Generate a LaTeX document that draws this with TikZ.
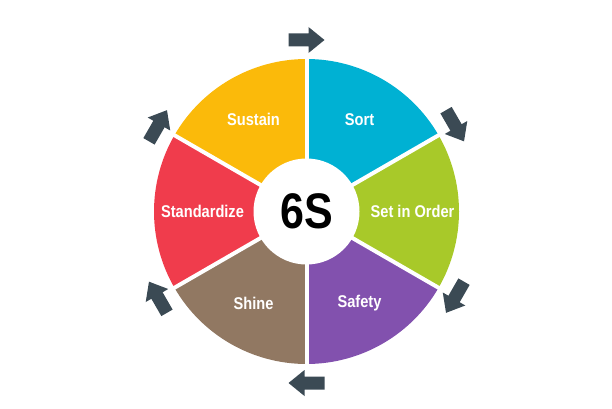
\documentclass[tikz,border=0pt]{standalone}
\usepackage{fontspec}
\setmainfont{Liberation Sans}
\definecolor{sortc}{HTML}{00B1D3}
\definecolor{orderc}{HTML}{A8C929}
\definecolor{safec}{HTML}{8251AE}
\definecolor{shinec}{HTML}{917862}
\definecolor{standc}{HTML}{F03C4C}
\definecolor{sustc}{HTML}{FBBA0A}
\definecolor{arrowgray}{HTML}{3B4A54}
\newcommand\nrw[1]{\scalebox{0.86}[1]{#1}}
\begin{document}
\begin{tikzpicture}[x=1pt,y=1pt,
  seglabel/.style={text=white,inner sep=0pt,font=\fontsize{17}{17}\selectfont\bfseries},
  centerlabel/.style={text=black,inner sep=0pt,font=\fontsize{50}{50}\selectfont\bfseries},
  cyclearrow/.style={fill=arrowgray}]
\useasboundingbox (0,0) rectangle (612,408);
\coordinate (C) at (306.5,196.5);
% segments
\foreach \a/\c in {30/sortc, -30/orderc, -90/safec, -150/shinec, 150/standc, 90/sustc}
  \fill[\c] (C) -- ++(\a:152.5) arc[start angle=\a, end angle=\a+60, radius=152.5] -- cycle;
% gaps
\foreach \a in {30,90,150,210,270,330}
  \draw[white,line width=4pt] (C) -- ++(\a:156);
\fill[white] (C) circle (53);
% labels
\node[centerlabel] (six) at (C) {\nrw{6S}};
\node[seglabel] (sort) at ([shift={(60:106)}]C) {\nrw{Sort}};
\node[seglabel] (order) at ([shift={(0:106)}]C) {\nrw{Set in Order}};
\node[seglabel] (safety) at ([shift={(-60:106)}]C) {\nrw{Safety}};
\node[seglabel] (shine) at ([shift={(-120:106)}]C) {\nrw{Shine}};
\node[seglabel] (stand) at ([shift={(180:104)}]C) {\nrw{Standardize}};
\node[seglabel] (sustain) at ([shift={(120:106)}]C) {\nrw{Sustain}};
% cycle arrows
\foreach \a in {90,30,-30,-90,-150,150}{
  \begin{scope}[shift={(C)}, rotate=\a-90, shift={(0,171.5)}]
    \fill[cyclearrow] (-18,6.5) -- (2,6.5) -- (2,13) -- (18,0) -- (2,-13) -- (2,-6.5) -- (-18,-6.5) -- cycle;
  \end{scope}
}
\end{tikzpicture}
\end{document}
